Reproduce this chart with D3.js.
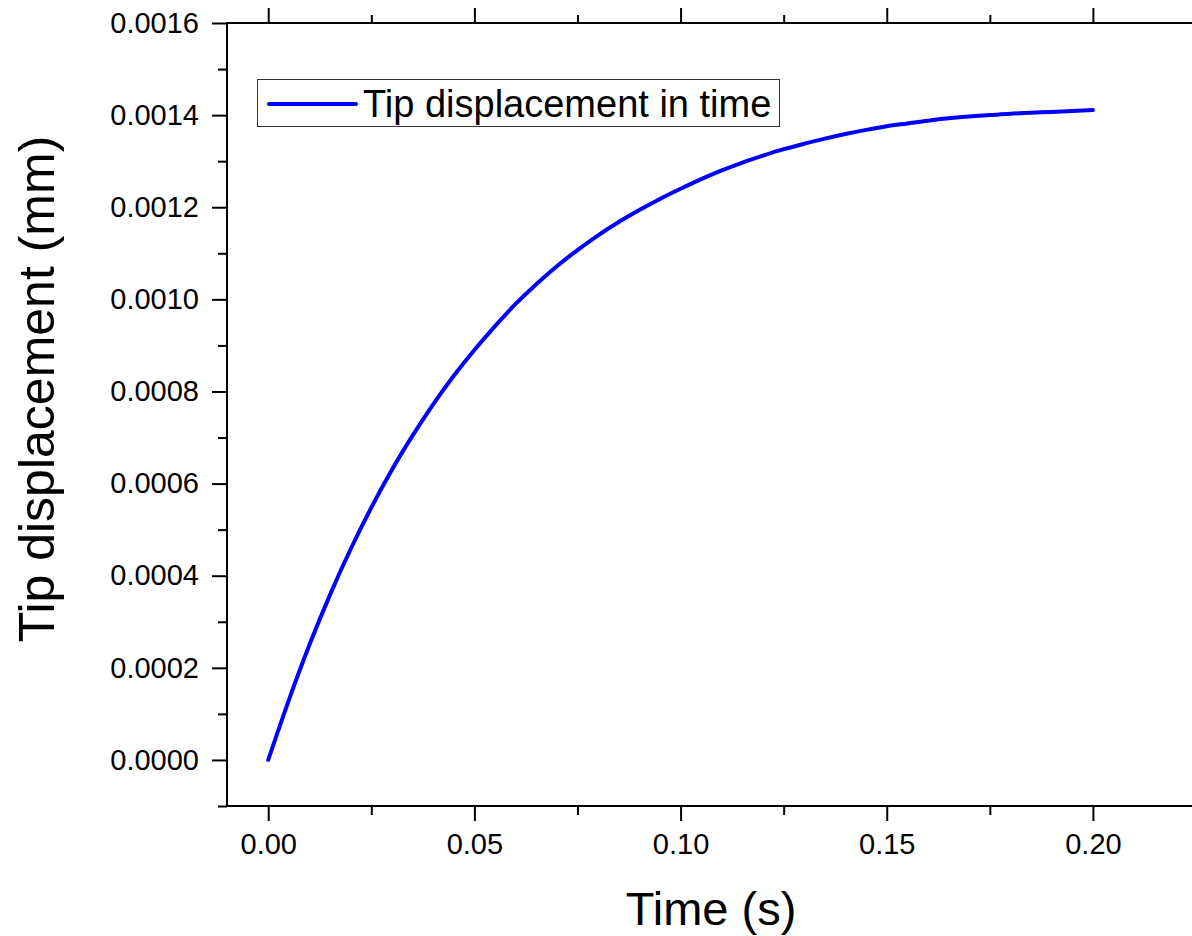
<!DOCTYPE html>
<html>
<head>
<meta charset="utf-8">
<script src="https://cdn.jsdelivr.net/npm/d3@7"></script>
<style>
  body { margin: 0; background: #fff; }
  svg { display: block; font-family: 'Liberation Sans', Arial, sans-serif; }
</style>
</head>
<body>
<div id="chart"></div>
<script>
'use strict'

var width = 1192
var height = 936

// time (s) and tip displacement (mm)
var times = [0, 0.005, 0.01, 0.015, 0.02, 0.025, 0.03, 0.035, 0.04, 0.045, 0.05,
  0.055, 0.06, 0.065, 0.07, 0.075, 0.08, 0.085, 0.09, 0.095, 0.10,
  0.105, 0.11, 0.115, 0.12, 0.125, 0.13, 0.135, 0.14, 0.145, 0.15,
  0.155, 0.16, 0.165, 0.17, 0.175, 0.18, 0.185, 0.19, 0.195, 0.20]
var displacement = [0, 0.000130, 0.000250, 0.000359, 0.000458, 0.000548, 0.000630, 0.000704, 0.000772, 0.000834, 0.000890,
  0.000942, 0.000990, 0.001033, 0.001072, 0.001107, 0.001139, 0.001168, 0.001194, 0.001218, 0.001240,
  0.001261, 0.001280, 0.001297, 0.001312, 0.001326, 0.001338, 0.001349, 0.001359, 0.001368, 0.001376,
  0.001382, 0.001388, 0.001393, 0.001397, 0.001400, 0.001403, 0.001405, 0.001407, 0.001409, 0.001411]

var xMajor = [0, 0.05, 0.10, 0.15, 0.20]
var xMinor = [0.025, 0.075, 0.125, 0.175, 0.225]
var yMajor = [0, 0.0002, 0.0004, 0.0006, 0.0008, 0.0010, 0.0012, 0.0014, 0.0016]
var yMinor = [-0.0001, 0.0001, 0.0003, 0.0005, 0.0007, 0.0009, 0.0011, 0.0013, 0.0015]

var seriesName = 'Tip displacement in time'

var x = d3.scaleLinear().domain([-0.01, 0.225]).range([227, 1196])
var y = d3.scaleLinear().domain([-0.0001, 0.0016]).range([806, 23])

var svg = d3.select('#chart').append('svg')
  .attr('width', width)
  .attr('height', height)

function styleAxis (g) {
  g.select('.domain').remove()
  g.selectAll('line').attr('stroke', '#000').attr('stroke-width', 2)
  g.selectAll('text').attr('fill', '#000').style('font-size', '29px')
}

// bottom
svg.append('g')
  .attr('transform', 'translate(0,' + y.range()[0] + ')')
  .call(d3.axisBottom(x).tickValues(xMajor).tickSize(15).tickPadding(12).tickFormat(d3.format('.2f')))
  .call(styleAxis)
svg.append('g')
  .attr('transform', 'translate(0,' + y.range()[0] + ')')
  .call(d3.axisBottom(x).tickValues(xMinor).tickSize(9).tickFormat(''))
  .call(styleAxis)

// top
svg.append('g')
  .attr('transform', 'translate(0,' + y.range()[1] + ')')
  .call(d3.axisTop(x).tickValues(xMajor).tickSize(15).tickFormat(''))
  .call(styleAxis)
svg.append('g')
  .attr('transform', 'translate(0,' + y.range()[1] + ')')
  .call(d3.axisTop(x).tickValues(xMinor).tickSize(8).tickFormat(''))
  .call(styleAxis)

// left
svg.append('g')
  .attr('transform', 'translate(' + x.range()[0] + ',0)')
  .call(d3.axisLeft(y).tickValues(yMajor).tickSize(15).tickPadding(13).tickFormat(d3.format('.4f')))
  .call(styleAxis)
svg.append('g')
  .attr('transform', 'translate(' + x.range()[0] + ',0)')
  .call(d3.axisLeft(y).tickValues(yMinor).tickSize(9).tickFormat(''))
  .call(styleAxis)

// frame
svg.append('rect')
  .attr('x', x.range()[0])
  .attr('y', y.range()[1])
  .attr('width', x.range()[1] - x.range()[0])
  .attr('height', y.range()[0] - y.range()[1])
  .attr('fill', 'none')
  .attr('stroke', '#000')
  .attr('stroke-width', 2)

// curve
var line = d3.line()
  .x((d, i) => x(times[i]))
  .y(d => y(d))
  .curve(d3.curveMonotoneX)

svg.append('path')
  .datum(displacement)
  .attr('d', line)
  .attr('fill', 'none')
  .attr('stroke', '#0000ff')
  .attr('stroke-width', 4)
  .attr('stroke-linecap', 'round')

// legend
var legend = svg.append('g')
legend.append('rect')
  .attr('x', 257.5).attr('y', 79.5)
  .attr('width', 522).attr('height', 47)
  .attr('fill', '#fff')
  .attr('stroke', '#333')
  .attr('stroke-width', 1)
legend.append('line')
  .attr('x1', 269).attr('x2', 356)
  .attr('y1', 104).attr('y2', 104)
  .attr('stroke', '#0000ff')
  .attr('stroke-width', 4)
  .attr('stroke-linecap', 'round')
legend.append('text')
  .attr('x', 363).attr('y', 117)
  .style('font-size', '38px')
  .text(seriesName)

// axis titles
svg.append('text')
  .attr('x', 711).attr('y', 925)
  .attr('text-anchor', 'middle')
  .style('font-size', '47px')
  .text('Time (s)')

svg.append('text')
  .attr('transform', 'translate(54,389) rotate(-90)')
  .attr('text-anchor', 'middle')
  .style('font-size', '50px')
  .text('Tip displacement (mm)')
</script>
</body>
</html>
